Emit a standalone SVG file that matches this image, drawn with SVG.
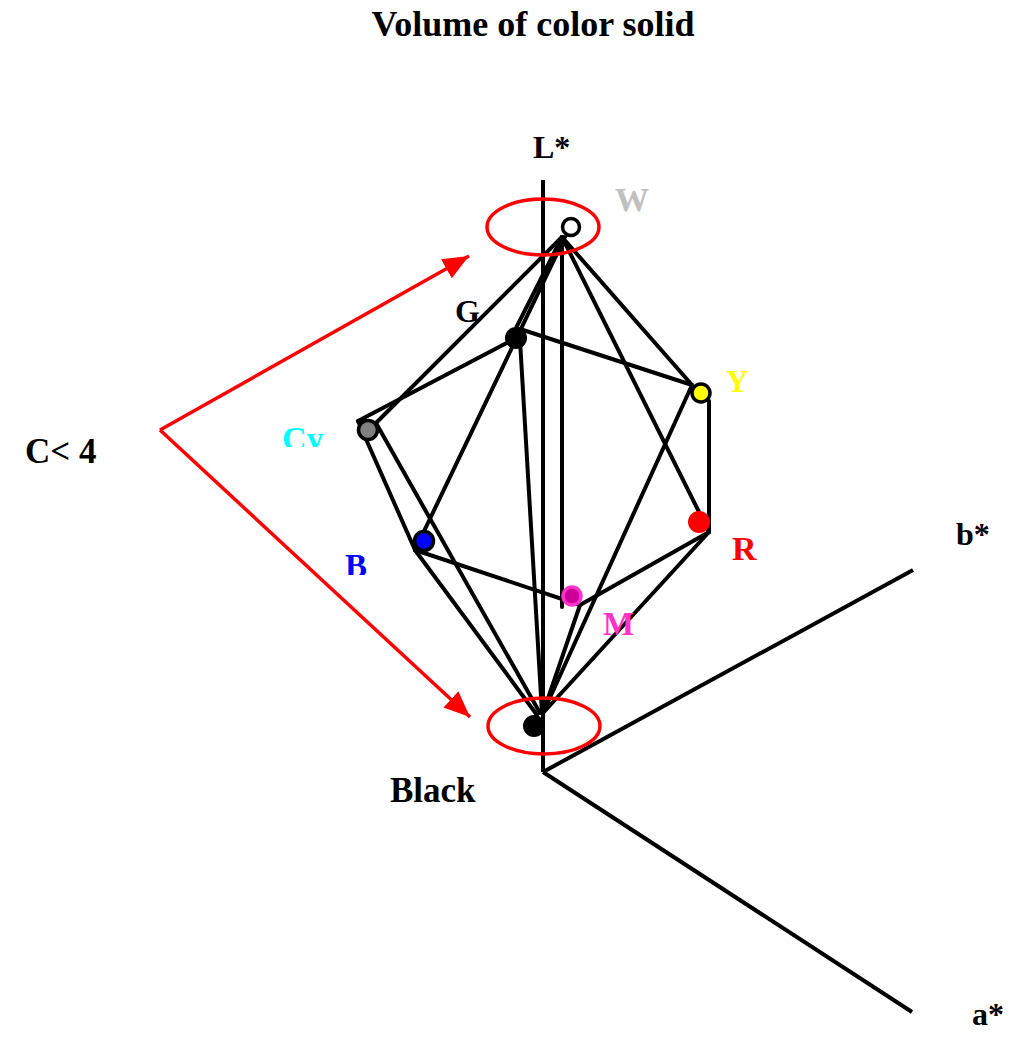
<svg xmlns="http://www.w3.org/2000/svg" width="1024" height="1047" viewBox="0 0 1024 1047">
<style>
  text { font-family: "Liberation Serif", "Times New Roman", serif; font-weight: bold; }
  .edge { stroke: #000; stroke-width: 4; fill: none; stroke-linecap: round; }
  .axis { stroke: #000; stroke-width: 4; fill: none; }
  .red { stroke: #ff0000; stroke-width: 3.5; fill: none; }
</style>
<defs>
  <marker id="arr" markerUnits="userSpaceOnUse" markerWidth="30" markerHeight="26" refX="26" refY="11" orient="auto">
    <path d="M0,0 L26,11 L0,22 z" fill="#ff0000"/>
  </marker>
  <clipPath id="clipCy"><rect x="270" y="400" width="80" height="47"/></clipPath>
  <clipPath id="clipB"><rect x="330" y="530" width="60" height="45"/></clipPath>
</defs>
<rect width="1024" height="1047" fill="#ffffff"/>

<text x="533" y="36" font-size="36" text-anchor="middle">Volume of color solid</text>

<g id="axes">
  <line class="axis" x1="543" y1="180" x2="543" y2="772"/>
  <line class="axis" x1="543" y1="772" x2="913" y2="570"/>
  <line class="axis" x1="543" y1="772" x2="912" y2="1012"/>
  <text x="533" y="158" font-size="32">L*</text>
  <text x="956" y="545" font-size="32">b*</text>
  <text x="972" y="1025" font-size="32">a*</text>
</g>

<g id="connectors">
  <line class="edge" x1="562" y1="237" x2="376" y2="423"/>
  <line class="edge" x1="562" y1="237" x2="511" y2="338"/>
  <line class="edge" x1="565" y1="237" x2="415" y2="550"/>
  <line class="edge" x1="562" y1="237" x2="562" y2="607"/>
  <line class="edge" x1="562" y1="237" x2="692" y2="385"/>
  <line class="edge" x1="562" y1="237" x2="709" y2="532"/>
  <line class="edge" x1="358" y1="421" x2="516" y2="338"/>
  <line class="edge" x1="520" y1="329" x2="692" y2="385"/>
  <line class="edge" x1="520" y1="340" x2="542" y2="713"/>
  <line class="edge" x1="709" y1="401" x2="709" y2="532"/>
  <line class="edge" x1="692" y1="385" x2="543" y2="713"/>
  <line class="edge" x1="709" y1="532" x2="580" y2="605"/>
  <line class="edge" x1="709" y1="532" x2="543" y2="713"/>
  <line class="edge" x1="415" y1="550" x2="580" y2="605"/>
  <line class="edge" x1="580" y1="605" x2="543" y2="713"/>
  <line class="edge" x1="415" y1="550" x2="358" y2="421"/>
  <line class="edge" x1="415" y1="550" x2="537" y2="715"/>
  <line class="edge" x1="376" y1="423" x2="540" y2="713"/>
</g>

<g id="annotations">
  <ellipse class="red" cx="543" cy="227" rx="56" ry="28"/>
  <ellipse class="red" cx="544" cy="726" rx="56" ry="28"/>
  <line class="red" x1="160" y1="430" x2="469" y2="256" marker-end="url(#arr)"/>
  <line class="red" x1="160" y1="430" x2="470" y2="717" marker-end="url(#arr)"/>
  <text x="25" y="463" font-size="35">C&lt; 4</text>
</g>

<g id="node-W">
  <circle cx="571" cy="227" r="8.5" fill="#ffffff" stroke="#000" stroke-width="3.5"/>
  <text x="615" y="211" font-size="34" fill="#c0c0c0">W</text>
</g>
<g id="node-G">
  <circle cx="516" cy="338" r="11" fill="#000"/>
  <text x="455" y="322" font-size="32">G</text>
</g>
<g id="node-Y">
  <circle cx="701" cy="393" r="9" fill="#ffff00" stroke="#000" stroke-width="3.5"/>
  <text x="726" y="392" font-size="31" fill="#ffff00">Y</text>
</g>
<g id="node-Cy">
  <circle cx="368" cy="430" r="9.5" fill="#808080" stroke="#000" stroke-width="3.5"/>
  <text x="282" y="450" font-size="34" fill="#00ffff" clip-path="url(#clipCy)">Cy</text>
</g>
<g id="node-R">
  <circle cx="699" cy="522" r="11" fill="#ff0000"/>
  <text x="732" y="560" font-size="34" fill="#ff0000">R</text>
</g>
<g id="node-B">
  <circle cx="424" cy="541" r="9.5" fill="#0000ff" stroke="#000" stroke-width="3.5"/>
  <text x="345" y="577" font-size="33" fill="#0000ff" clip-path="url(#clipB)">B</text>
</g>
<g id="node-M">
  <circle cx="572" cy="596" r="9" fill="#cc0099" stroke="#ff33cc" stroke-width="3.5"/>
  <text x="603" y="635" font-size="33" fill="#ff33cc">M</text>
</g>
<g id="node-Black">
  <circle cx="534" cy="726" r="11" fill="#000"/>
  <text x="390" y="802" font-size="35">Black</text>
</g>
</svg>
